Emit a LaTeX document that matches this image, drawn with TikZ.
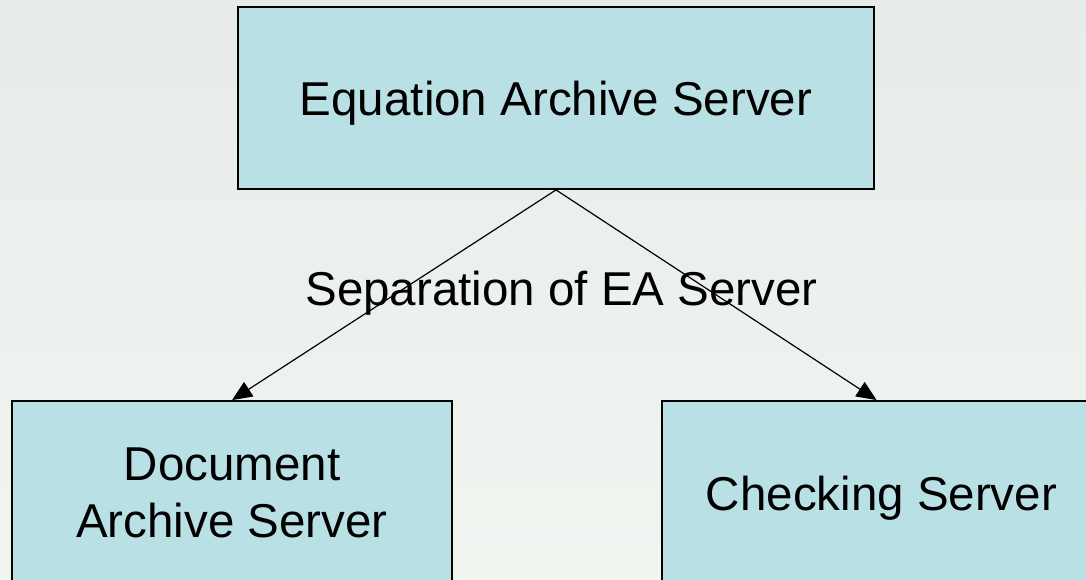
\documentclass[tikz,border=0pt]{standalone}
\usepackage{fontspec}
\setmainfont{Liberation Sans}
\usetikzlibrary{arrows.meta}

\definecolor{boxcyan}{RGB}{185,224,228}
\definecolor{bgtop}{RGB}{231,236,235}
\definecolor{bgbot}{RGB}{241,245,240}

\tikzset{
  srv/.style={draw=black, line width=0.9pt, fill=boxcyan, minimum height=92pt,
    inner sep=0pt, align=center, font=\fontsize{23.75}{28.5}\selectfont},
  oneline/.style={text height=17pt, text depth=0pt},
  split/.style={-{Triangle[length=10pt,width=8.5pt]}, line width=0.6pt}
}

\begin{document}
\begin{tikzpicture}[x=0.5pt, y=-0.5pt]

    % page background
    \shade[top color=bgtop, bottom color=bgbot] (0,0) rectangle (1086,579);
    \useasboundingbox (0,0) rectangle (1086,579);

    % Servers
    \node[srv, oneline, minimum width=318pt, minimum height=91pt] (eas) at (556, 98) {Equation Archive Server};
    \node[srv, minimum width=220pt] (das) at (232, 493) {Document\\Archive Server};
    \node[srv, oneline, minimum width=219.5pt] (chk) at (881.5, 493) {Checking Server};

    % Label between the levels
    \node[anchor=base, inner sep=0pt, font=\fontsize{23.75}{28.5}\selectfont] (sep) at (561.5, 305) {Separation of EA Server};

    % Splitting arrows
    \draw[split] (eas.south) -- (das.north);
    \draw[split] (eas.south) -- (chk.93);

\end{tikzpicture}
\end{document}
